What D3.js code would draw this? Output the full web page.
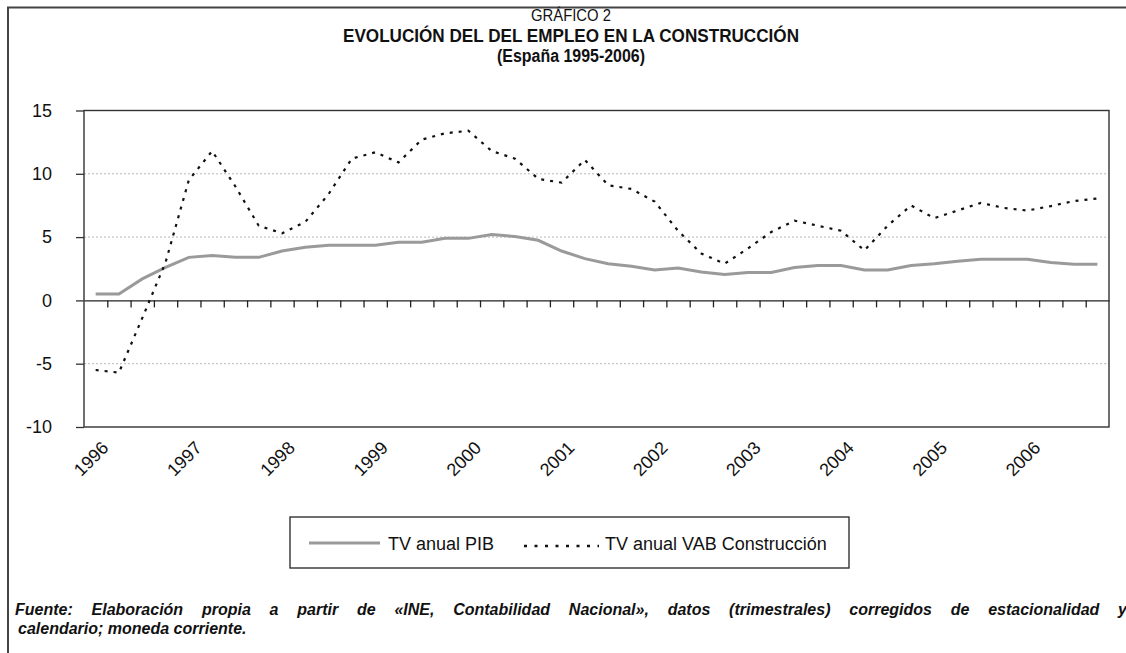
<!DOCTYPE html>
<html>
<head>
<meta charset="utf-8">
<script src="https://cdn.jsdelivr.net/npm/d3@7/dist/d3.min.js"></script>
<style>
  body { margin: 0; background: #fff; }
  svg text { font-family: 'Liberation Sans', Arial, Helvetica, sans-serif; fill: #111; }
</style>
</head>
<body>
<div id="chart"></div>
<script>
// data (quarterly, % change)
const yearLabels = ['1996', '1997', '1998', '1999', '2000', '2001', '2002', '2003', '2004', '2005', '2006'];
const quarterLabels = ['T1', 'T2', 'T3', 'T4'];
const yTicks = [-10, -5, 0, 5, 10, 15];
const seriesNames = ['TV anual PIB', 'TV anual VAB Construcción'];

const pibValues = [
  0.5, 0.5, 1.7, 2.6,
  3.4, 3.55, 3.4, 3.4,
  3.9, 4.2, 4.35, 4.35,
  4.35, 4.6, 4.6, 4.9,
  4.9, 5.2, 5.05, 4.75,
  3.9, 3.3, 2.9, 2.7,
  2.4, 2.55, 2.25, 2.05,
  2.2, 2.2, 2.6, 2.75,
  2.75, 2.4, 2.4, 2.75,
  2.9, 3.1, 3.25, 3.25,
  3.25, 3.0, 2.85, 2.85
];

const vabValues = [
  -5.5, -5.7, -1.4, 3.0,
  9.5, 11.8, 9.0, 5.9,
  5.3, 6.2, 8.4, 11.2,
  11.7, 10.9, 12.7, 13.2,
  13.4, 11.8, 11.2, 9.6,
  9.3, 11.1, 9.1, 8.8,
  7.8, 5.5, 3.7, 2.9,
  4.1, 5.4, 6.3, 5.9,
  5.5, 3.95, 5.9, 7.5,
  6.5, 7.1, 7.7, 7.3,
  7.1, 7.45, 7.85, 8.05
];

const titleLines = ['GRÁFICO 2', 'EVOLUCIÓN DEL DEL EMPLEO EN LA CONSTRUCCIÓN', '(España 1995-2006)'];
const footLines = [
  'Fuente: Elaboración propia a partir de «INE, Contabilidad Nacional», datos (trimestrales) corregidos de estacionalidad y',
  'calendario; moneda corriente.'
];

const categories = yearLabels.flatMap(y => quarterLabels.map(q => `${y} ${q}`));

function drawChart() {
  const width = 1126, height = 653;
  const plot = { left: 84, right: 1109, top: 110.5, bottom: 427 };

  const svg = d3.select('#chart')
    .append('svg')
    .attr('width', width)
    .attr('height', height);

  // outer frame, only top and left edges fall inside the picture
  svg.append('path')
    .attr('d', `M8,${height} V7.5 H${width}`)
    .attr('fill', 'none')
    .attr('stroke', '#444')
    .attr('stroke-width', 2);

  // Titles
  svg.append('text')
    .attr('x', 571).attr('y', 21)
    .attr('text-anchor', 'middle')
    .attr('font-size', 16)
    .attr('fill', '#333')
    .attr('textLength', 80)
    .attr('lengthAdjust', 'spacingAndGlyphs')
    .text(titleLines[0]);

  svg.append('text')
    .attr('x', 571).attr('y', 41.5)
    .attr('text-anchor', 'middle')
    .attr('font-size', 17.5)
    .attr('font-weight', 'bold')
    .attr('textLength', 456)
    .attr('lengthAdjust', 'spacingAndGlyphs')
    .text(titleLines[1]);

  svg.append('text')
    .attr('x', 571).attr('y', 61.5)
    .attr('text-anchor', 'middle')
    .attr('font-size', 17.5)
    .attr('font-weight', 'bold')
    .attr('textLength', 148)
    .attr('lengthAdjust', 'spacingAndGlyphs')
    .text(titleLines[2]);

  const x = d3.scaleBand()
    .domain(categories)
    .range([plot.left, plot.right]);

  // edges between quarters, for the tick marks
  const xEdge = d3.scaleLinear()
    .domain([0, categories.length])
    .range([plot.left, plot.right]);

  const y = d3.scaleLinear()
    .domain([-10, 15])
    .range([plot.bottom, plot.top]);

  // Grid
  svg.append('g')
    .selectAll('line')
    .data(yTicks.filter(v => v !== 0 && v !== -10 && v !== 15))
    .join('line')
    .attr('x1', plot.left).attr('x2', plot.right)
    .attr('y1', d => y(d)).attr('y2', d => y(d))
    .attr('stroke', '#b8b8b8')
    .attr('stroke-width', 1)
    .attr('stroke-dasharray', '2,2');

  // Y Axis
  const yAxis = svg.append('g')
    .attr('transform', `translate(${plot.left},0)`)
    .call(d3.axisLeft(y).tickValues(yTicks).tickSize(8).tickPadding(24).tickFormat(d => String(d)));
  yAxis.select('.domain').remove();
  yAxis.selectAll('line').attr('stroke', '#333').attr('stroke-width', 1.3);
  yAxis.selectAll('text').attr('font-size', 18).attr('fill', '#111');

  // plot frame
  svg.append('rect')
    .attr('x', plot.left).attr('y', plot.top)
    .attr('width', plot.right - plot.left)
    .attr('height', plot.bottom - plot.top)
    .attr('fill', 'none')
    .attr('stroke', '#333')
    .attr('stroke-width', 1.4);

  // X Axis on the zero line, ticks between quarters
  const xAxis = svg.append('g')
    .attr('transform', `translate(0,${y(0)})`)
    .call(d3.axisBottom(xEdge)
      .tickValues(d3.range(1, categories.length))
      .tickSize(7)
      .tickSizeOuter(0)
      .tickFormat(''));
  xAxis.select('.domain').attr('stroke', '#222').attr('stroke-width', 1.4);
  xAxis.selectAll('line').attr('stroke', '#222').attr('stroke-width', 1.3);

  // year labels
  svg.append('g')
    .selectAll('text')
    .data(yearLabels)
    .join('text')
    .attr('transform', (d, i) => `translate(${x(categories[i * 4]) + x.bandwidth() / 2 + 14},449) rotate(-45)`)
    .attr('text-anchor', 'end')
    .attr('font-size', 18)
    .text(d => d);

  const line = d3.line()
    .x((d, i) => x(categories[i]) + x.bandwidth() / 2)
    .y(d => y(d));

  // Lines
  svg.append('path')
    .datum(pibValues)
    .attr('d', line)
    .attr('fill', 'none')
    .attr('stroke', '#9a9a9a')
    .attr('stroke-width', 3);

  svg.append('path')
    .datum(vabValues)
    .attr('d', line)
    .attr('fill', 'none')
    .attr('stroke', '#111')
    .attr('stroke-width', 2.2)
    .attr('stroke-dasharray', '3,6');

  // Legend
  const legend = svg.append('g');
  legend.append('rect')
    .attr('x', 290).attr('y', 517)
    .attr('width', 559).attr('height', 51)
    .attr('fill', '#fff')
    .attr('stroke', '#333')
    .attr('stroke-width', 1.4);

  legend.append('line')
    .attr('x1', 309).attr('x2', 380).attr('y1', 543).attr('y2', 543)
    .attr('stroke', '#9a9a9a').attr('stroke-width', 3);
  legend.append('text')
    .attr('x', 388).attr('y', 549.5)
    .attr('font-size', 18)
    .text(seriesNames[0]);

  legend.append('line')
    .attr('x1', 524).attr('x2', 599).attr('y1', 546).attr('y2', 546)
    .attr('stroke', '#111').attr('stroke-width', 2.6)
    .attr('stroke-dasharray', '3,7.5');
  legend.append('text')
    .attr('x', 605).attr('y', 549.5)
    .attr('font-size', 18)
    .text(seriesNames[1]);

  // Source note, first line justified
  const foot1 = svg.append('text')
    .attr('x', 15).attr('y', 615)
    .attr('font-size', 16)
    .attr('font-weight', 'bold')
    .attr('font-style', 'italic')
    .text(footLines[0]);
  const natural = foot1.node().getComputedTextLength();
  const gaps = footLines[0].split(' ').length - 1;
  foot1.attr('word-spacing', (1127 - 15 - natural) / gaps);

  svg.append('text')
    .attr('x', 18).attr('y', 634)
    .attr('font-size', 16)
    .attr('font-weight', 'bold')
    .attr('font-style', 'italic')
    .text(footLines[1]);
}

drawChart();
</script>
</body>
</html>
